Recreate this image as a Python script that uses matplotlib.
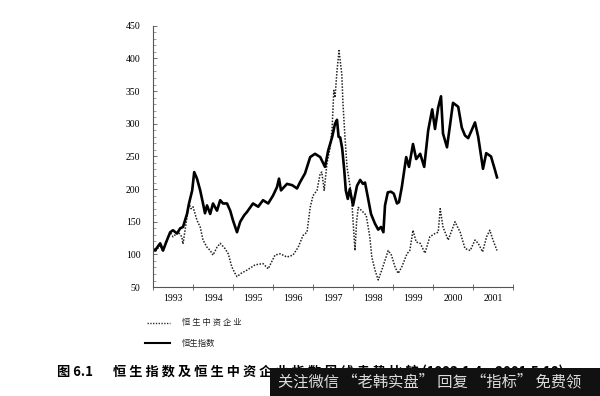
import matplotlib.pyplot as plt
import numpy as np
from matplotlib.lines import Line2D
from matplotlib.patches import Rectangle

# 数据（由图中读取的周线走势近似值）
hsi_years = [1993.0, 1993.05, 1993.12, 1993.18, 1993.25, 1993.35, 1993.43, 1993.5, 1993.6, 1993.68,
             1993.75, 1993.85, 1993.9, 1993.98, 1994.03, 1994.1, 1994.18, 1994.25, 1994.3, 1994.35,
             1994.43, 1994.5, 1994.6, 1994.68, 1994.75, 1994.85, 1994.93, 1995.0, 1995.1, 1995.18,
             1995.28, 1995.35, 1995.5, 1995.63, 1995.75, 1995.88, 1996.0, 1996.1, 1996.15, 1996.2,
             1996.35, 1996.48, 1996.6, 1996.68, 1996.8, 1996.93, 1997.05, 1997.18, 1997.3, 1997.38,
             1997.48, 1997.55, 1997.6, 1997.64, 1997.68, 1997.73, 1997.78, 1997.82, 1997.87, 1997.92,
             1998.0, 1998.05, 1998.1, 1998.18, 1998.25, 1998.3, 1998.37, 1998.45, 1998.55, 1998.63,
             1998.7, 1998.76, 1998.8, 1998.87, 1998.95, 1999.02, 1999.1, 1999.15, 1999.22, 1999.33,
             1999.4, 1999.5, 1999.58, 1999.68, 1999.78, 1999.88, 1999.98, 2000.05, 2000.13, 2000.2,
             2000.25, 2000.35, 2000.43, 2000.5, 2000.63, 2000.72, 2000.8, 2000.88, 2000.98, 2001.05,
             2001.13, 2001.25, 2001.33, 2001.45, 2001.55, 2001.6]
hsi_vals = [108, 106, 112, 117, 106, 122, 134, 137, 132, 140,
            142, 162, 178, 198, 226, 216, 198, 178, 163, 175,
            162, 178, 167, 183, 178, 178, 167, 152, 134, 150,
            160, 165, 178, 173, 183, 178, 190, 203, 216, 198,
            208, 206, 201, 211, 224, 249, 254, 249, 234, 259,
            280, 300, 306, 280, 279, 262, 230, 198, 185, 200,
            175, 190, 205, 214, 208, 210, 188, 162, 147, 138,
            142, 134, 175, 195, 196, 193, 178, 180, 203, 249,
            234, 269, 246, 254, 234, 290, 322, 292, 325, 342,
            285, 264, 300, 332, 326, 294, 282, 278, 292, 302,
            280, 231, 255, 250, 229, 218]

hscci_years = [1993.0, 1993.05, 1993.18, 1993.25, 1993.35, 1993.43, 1993.5, 1993.63, 1993.72, 1993.75,
               1993.85, 1993.9, 1993.95, 1994.0, 1994.1, 1994.18, 1994.25, 1994.35, 1994.43, 1994.5,
               1994.6, 1994.68, 1994.8, 1994.88, 1994.97, 1995.05, 1995.1, 1995.2, 1995.35, 1995.55,
               1995.75, 1995.88, 1996.05, 1996.18, 1996.35, 1996.5, 1996.63, 1996.75, 1996.85, 1996.93,
               1997.0, 1997.1, 1997.18, 1997.22, 1997.28, 1997.35, 1997.43, 1997.48, 1997.52, 1997.55,
               1997.6, 1997.65, 1997.72, 1997.75, 1997.8, 1997.85, 1997.93, 1997.97, 1998.0, 1998.05,
               1998.09, 1998.13, 1998.2, 1998.33, 1998.42, 1998.47, 1998.55, 1998.63, 1998.72, 1998.8,
               1998.88, 1998.96, 1999.05, 1999.13, 1999.22, 1999.35, 1999.42, 1999.5, 1999.58, 1999.68,
               1999.8, 1999.92, 2000.05, 2000.13, 2000.18, 2000.25, 2000.38, 2000.55, 2000.68, 2000.8,
               2000.93, 2001.05, 2001.13, 2001.24, 2001.34, 2001.42, 2001.5, 2001.6]
hscci_vals = [106, 104, 114, 104, 122, 134, 127, 134, 127, 116,
              157, 178, 170, 173, 152, 142, 122, 111, 106, 99,
              111, 117, 109, 101, 81, 71, 66, 71, 76, 84,
              86, 78, 99, 101, 96, 99, 111, 129, 134, 172,
              190, 198, 224, 226, 198, 240, 264, 295, 351, 340,
              381, 412, 376, 330, 279, 234, 203, 183, 152, 106,
              150, 172, 168, 160, 127, 96, 76, 61, 76, 91,
              106, 99, 81, 71, 81, 101, 106, 137, 119, 117,
              102, 127, 132, 134, 170, 142, 122, 150, 134, 109,
              106, 122, 117, 104, 127, 137, 122, 106]

year_labels = ["1993", "1994", "1995", "1996", "1997", "1998", "1999", "2000", "2001"]
y_ticks = [50, 100, 150, 200, 250, 300, 350, 400, 450]

serif = "Liberation Serif"
cjk = ["Noto Sans CJK SC", "DejaVu Sans"]

fig = plt.figure(figsize=(6, 3.96), dpi=100)
ax = fig.add_axes([0.255, 0.275, 0.6, 0.66])

ax.plot(hscci_years, hscci_vals, color="#222222", linestyle=(0, (1, 1)), linewidth=1.1)
ax.plot(hsi_years, hsi_vals, color="black", linewidth=1.9)

ax.set_xlim(1993, 2002)
ax.set_ylim(50, 450)
ax.spines["top"].set_visible(False)
ax.spines["right"].set_visible(False)
for s in ["left", "bottom"]:
    ax.spines[s].set_linewidth(0.8)
    ax.spines[s].set_color("#555555")

# 年份刻度在年初，标签在年中
ax.set_xticks(np.arange(1993, 2003))
ax.set_xticklabels([])
ax.set_xticks([1993.5 + i for i in range(len(year_labels))], minor=True)
ax.set_xticklabels(year_labels, minor=True, fontfamily=serif, fontsize=7)
ax.tick_params(axis="x", which="major", direction="inout", length=4, width=0.6, color="#555555")
ax.tick_params(axis="x", which="minor", length=0, pad=5)

ax.set_yticks(y_ticks)
ax.set_yticklabels([str(v) for v in y_ticks], fontfamily=serif, fontsize=7)
ax.set_yticks(np.arange(50, 451, 10), minor=True)
ax.tick_params(axis="y", which="major", direction="in", length=3, width=0.6, color="#555555", pad=9)
ax.tick_params(axis="y", which="minor", direction="in", length=2, width=0.5, color="#777777")

# 图例
fig.add_artist(Line2D([147 / 600, 170 / 600], [1 - 323 / 396] * 2, color="#333333",
                      linestyle=(0, (1, 1)), linewidth=1.0))
fig.add_artist(Line2D([145 / 600, 170 / 600], [1 - 343 / 396] * 2, color="black", linewidth=1.5))
fig.text(182 / 600, 1 - 323 / 396, "恒 生 中 资 企 业", family=cjk, fontsize=6, va="center", color="#222222")
fig.text(182 / 600, 1 - 343 / 396, "恒生指数", family=cjk, fontsize=6, va="center", color="#222222")

# 标题
fig.text(57 / 600, 1 - 372 / 396, "图 6.1", family=cjk, fontsize=9.5, fontweight="bold", va="center")
fig.text(113 / 600, 1 - 372 / 396, "恒 生 指 数 及 恒 生 中 资 企 业 指 数 周 线 走 势 比 较 (1993.1.4～2001.5.18)",
         family=cjk, fontsize=9.5, fontweight="bold", va="center")

# 水印
fig.add_artist(Rectangle((270 / 600, 0), 330 / 600, 28 / 396, transform=fig.transFigure,
                         facecolor="#111111", edgecolor="none", zorder=5))
fig.text(278 / 600, 1 - 382 / 396, "关注微信 “老韩实盘” 回复 “指标” 免费领", family=cjk,
         fontsize=11, color="#dddddd", va="center", zorder=6)

fig.savefig("out.png", dpi=100)
